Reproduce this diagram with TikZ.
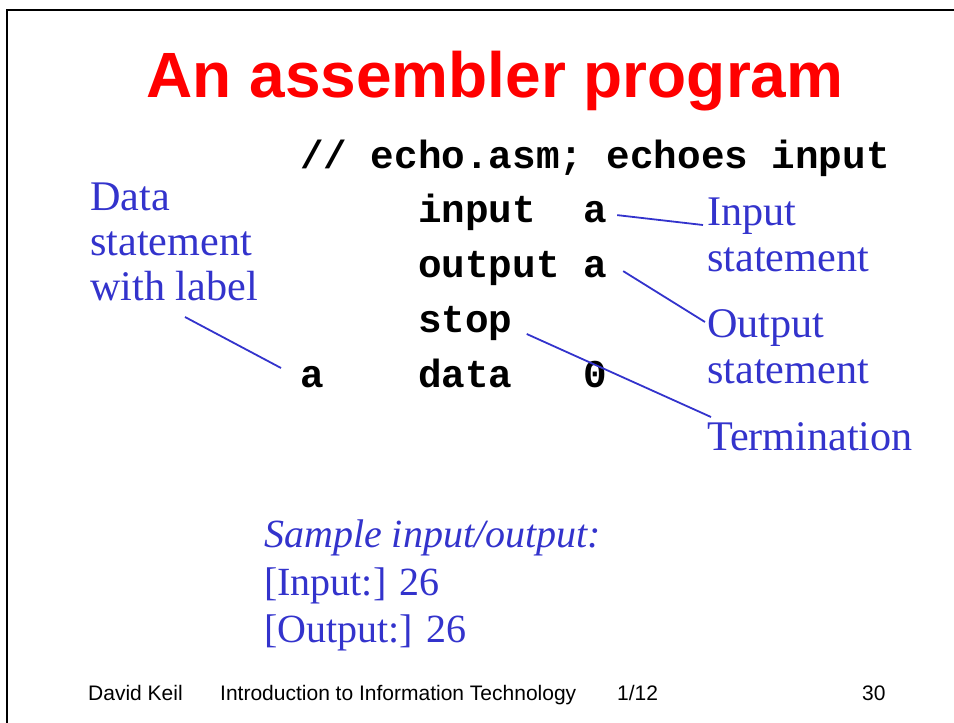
\documentclass[tikz,border=0pt]{standalone}
\usepackage{fontspec}
\setmainfont{Liberation Serif}
\newfontfamily\headfont{Liberation Sans}
\newfontfamily\asmfont{Liberation Mono}
\definecolor{slideblue}{RGB}{51,51,204}
\tikzset{
  txt/.style={anchor=base west, inner sep=0pt, text=slideblue, font=\fontsize{40}{46}\selectfont},
  callout/.style={txt, font=\fontsize{42.2}{46}\selectfont},
  asm/.style={anchor=base west, inner sep=0pt, font=\asmfont\bfseries\fontsize{39.3}{46}\selectfont},
  foot/.style={anchor=base west, inner sep=0pt, font=\headfont\fontsize{21}{24}\selectfont},
  conn/.style={draw=slideblue, line width=1.8pt}
}

\begin{document}
\begin{tikzpicture}[x=1pt,y=-1pt]
  \useasboundingbox (0,0) rectangle (954,723);
  \draw[line width=2.4pt] (7,723) -- (7,10) -- (954,10);
  \node[anchor=base, inner sep=0pt, text=red, font=\headfont\bfseries\fontsize{64}{70}\selectfont] (title) at (495,97) {An assembler program};

  % program text
  \node[asm] (cmt)   at (300,168)   {// echo.asm; echoes input};
  \node[asm] (cin)   at (418,222)   {input};
  \node[asm] (cina)  at (583.2,222) {a};
  \node[asm] (cout)  at (418,277)   {output};
  \node[asm] (couta) at (583.2,277) {a};
  \node[asm] (cstop) at (418,332)   {stop};
  \node[asm] (clab)  at (300,387)   {a};
  \node[asm] (cdata) at (418,387)   {data};
  \node[asm] (czero) at (583.2,387) {0};

  % callouts
  \node[callout] (dataLbl) at (90,210)  {Data};
  \node[callout] (stmLbl)  at (90,255)  {statement};
  \node[callout] (withLbl) at (90,300)  {with label};
  \node[callout] (inLbl)   at (707,225) {Input};
  \node[callout] (inStm)   at (707,271) {statement};
  \node[callout] (outLbl)  at (707,337) {Output};
  \node[callout] (outStm)  at (707,383) {statement};
  \node[callout] (termLbl) at (707,450) {Termination};

  \draw[conn] ([xshift=10pt,yshift=-3.5pt]cina.east) -- ([xshift=-4pt]inLbl.base west);
  \draw[conn] ([xshift=16pt,yshift=-4.5pt]couta.east) -- ([xshift=-2pt,yshift=15pt]outLbl.base west);
  \draw[conn] ([xshift=14pt,yshift=-2pt]cstop.base east) -- ([xshift=4pt,yshift=33pt]termLbl.base west);
  \draw[conn] ([xshift=95pt,yshift=-17pt]withLbl.base west) -- ([xshift=-19pt,yshift=19pt]clab.base west);

  % sample run
  \node[txt, font=\itshape\fontsize{40}{46}\selectfont] (sample) at (264,547) {Sample input/output:};
  \node[txt] (runIn)  at (264,595) {[Input:] 26};
  \node[txt] (runOut) at (264,642) {[Output:] 26};

  % footer
  \node[foot] (author) at (88,700)  {David Keil};
  \node[foot] (course) at (220,700) {Introduction to Information Technology};
  \node[foot] (date)   at (617,700) {1/12};
  \node[foot] (page)   at (862,700) {30};
\end{tikzpicture}
\end{document}
